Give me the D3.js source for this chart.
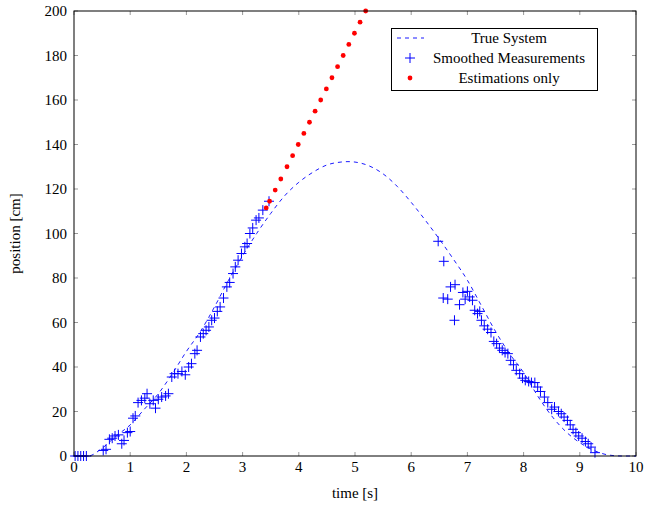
<!DOCTYPE html>
<html>
<head>
<meta charset="utf-8">
<script src="https://cdn.jsdelivr.net/npm/d3@7"></script>
<style>
  body { margin: 0; background: #fff; }
  svg text { font-family: 'Liberation Serif', 'DejaVu Serif', serif; fill: #000; }
</style>
</head>
<body>
<div id="chart"></div>
<script>
// true system trajectory [time s, position cm]
const trueTime = [0, 0.25, 0.5, 0.75, 1.0, 1.25, 1.5, 1.75, 2.0, 2.25, 2.5, 2.75, 3.0, 3.25, 3.5, 3.75, 4.0, 4.25, 4.5, 4.75, 4.875, 5.0, 5.25, 5.5, 5.75, 6.0, 6.25, 6.5, 6.75, 7.0, 7.25, 7.5, 7.75, 8.0, 8.25, 8.5, 8.75, 9.0, 9.25, 9.5, 9.75, 10];
const truePos = [0, 0, 3.5, 9, 14, 21, 28, 37, 47, 56, 67, 79, 90, 100, 109, 117, 123, 127.5, 130.8, 132.1, 132.3, 132.1, 130.4, 126.8, 121.2, 114, 106, 97.5, 88.5, 79, 67.5, 56, 46, 37.5, 27, 18, 11, 6, 2.5, 0.5, 0, 0];

// smoothed measurements
const measTime = [0.02, 0.07, 0.12, 0.17, 0.22,
  0.52, 0.57, 0.63, 0.68, 0.73, 0.79, 0.85, 0.89, 0.95, 1.0, 1.05, 1.09, 1.14, 1.2, 1.26, 1.3, 1.35, 1.41, 1.45, 1.5,
  1.56, 1.63, 1.68, 1.74, 1.79, 1.85, 1.92, 1.98, 2.04, 2.09, 2.15, 2.19, 2.25, 2.3, 2.35, 2.4, 2.45, 2.5, 2.55, 2.6,
  2.66, 2.72, 2.77, 2.83, 2.87, 2.92, 2.98, 3.04, 3.08, 3.13, 3.18, 3.24, 3.29, 3.36, 3.47,
  6.48, 6.58, 6.57, 6.65, 6.7, 6.78, 6.77, 6.86, 6.92, 6.96, 7.0, 7.04, 7.09, 7.13, 7.18, 7.22, 7.25, 7.3, 7.36, 7.42,
  7.47, 7.52, 7.57, 7.62, 7.67, 7.72, 7.77, 7.82, 7.87, 7.93, 7.98, 8.03, 8.09, 8.14, 8.2, 8.25, 8.3, 8.37, 8.43, 8.5,
  8.55, 8.62, 8.67, 8.72, 8.78, 8.83, 8.88, 8.93, 8.98, 9.04, 9.1, 9.15, 9.2, 9.27];
const measPos = [0, 0, 0, 0, 0,
  2.5, 3, 7.5, 8, 9, 9.5, 5.5, 7, 10.5, 11, 17, 18, 24, 25, 26, 28, 23.5, 25, 21.5, 25.5,
  26.5, 27, 28, 35.5, 37, 37, 38, 36.5, 40, 41.5, 46, 47.5, 53.5, 55, 56.5, 58, 61, 62, 65, 67,
  71, 76, 78, 82, 85, 88, 91, 94, 95.5, 100, 102.5, 106, 107, 110.5, 114.5,
  96.5, 87.5, 71, 70.5, 76, 77, 61, 68, 73.5, 70.5, 74, 71.5, 70, 65.5, 64, 65, 61, 58.5, 57, 55.5,
  51.5, 50.5, 48.5, 47.5, 46.5, 46, 43, 41, 38.5, 37, 35, 34, 33.5, 33, 33, 31, 29, 26.5, 24, 21,
  22, 20, 19, 17.5, 16, 14, 12, 10.5, 9, 8, 6.5, 5.5, 4, 1.5];

// estimation only (no measurements)
const estTime = [3.42, 3.48, 3.58, 3.68, 3.79, 3.89, 3.99, 4.09, 4.19, 4.29, 4.39, 4.49, 4.59, 4.69, 4.79, 4.89, 4.99, 5.09, 5.19];
const estPos = [111.5, 114.5, 119.5, 124.5, 130, 135, 140, 145, 150, 155, 160, 165, 170, 175, 180, 185, 190, 195, 200];

const xTicks = [0, 1, 2, 3, 4, 5, 6, 7, 8, 9, 10];
const yTicks = [0, 20, 40, 60, 80, 100, 120, 140, 160, 180, 200];
const legendLabels = ['True System', 'Smoothed Measurements', 'Estimations only'];

const width = 646, height = 506;
const plot = {left: 74, right: 636, top: 11, bottom: 456};

const svg = d3.select('#chart').append('svg')
    .attr('width', width)
    .attr('height', height);

const x = d3.scaleLinear().domain([0, 10]).range([plot.left, plot.right]);
const y = d3.scaleLinear().domain([0, 200]).range([plot.bottom, plot.top]);

// ticks, inward on all four sides
const tickLen = 4;
const tickColor = '#999';
let ticks = svg.append('g').attr('class', 'ticks');
xTicks.forEach(t => {
    ticks.append('line').attr('x1', x(t)).attr('x2', x(t)).attr('y1', plot.bottom).attr('y2', plot.bottom - tickLen)
        .attr('stroke', tickColor);
    ticks.append('line').attr('x1', x(t)).attr('x2', x(t)).attr('y1', plot.top).attr('y2', plot.top + tickLen)
        .attr('stroke', tickColor);
});
yTicks.forEach(t => {
    ticks.append('line').attr('x1', plot.left).attr('x2', plot.left + tickLen).attr('y1', y(t)).attr('y2', y(t))
        .attr('stroke', tickColor);
    ticks.append('line').attr('x1', plot.right).attr('x2', plot.right - tickLen).attr('y1', y(t)).attr('y2', y(t))
        .attr('stroke', tickColor);
});

// tick labels
svg.append('g').selectAll('text')
    .data(xTicks)
    .enter().append('text')
    .attr('x', d => x(d))
    .attr('y', plot.bottom + 16)
    .attr('text-anchor', 'middle')
    .style('font-size', '15px')
    .text(d => d);

svg.append('g').selectAll('text')
    .data(yTicks)
    .enter().append('text')
    .attr('x', plot.left - 7)
    .attr('y', d => y(d))
    .attr('dy', '.35em')
    .attr('text-anchor', 'end')
    .style('font-size', '15px')
    .text(d => d);

// axis titles
svg.append('text')
    .attr('x', (plot.left + plot.right) / 2)
    .attr('y', 498)
    .attr('text-anchor', 'middle')
    .style('font-size', '15px')
    .text('time [s]');

svg.append('text')
    .attr('transform', 'translate(20,' + ((plot.top + plot.bottom) / 2) + ')rotate(-90)')
    .attr('text-anchor', 'middle')
    .style('font-size', '15px')
    .text('position [cm]');

// true system
const trueData = trueTime.map((t, i) => [t, truePos[i]]);
const line = d3.line().x(d => x(d[0])).y(d => y(d[1])).curve(d3.curveMonotoneX);
svg.append('path')
    .datum(trueData)
    .attr('d', line)
    .attr('fill', 'none')
    .attr('stroke', '#0000ff')
    .attr('stroke-width', 0.9)
    .attr('stroke-dasharray', '4,4');

// measurements as plus marks
const crossSize = 5;
const measData = measTime.map((t, i) => [t, measPos[i]]);
let crosses = svg.append('g').attr('class', 'meas')
    .selectAll('g')
    .data(measData)
    .enter().append('g')
    .attr('transform', d => 'translate(' + x(d[0]) + ',' + y(d[1]) + ')');
crosses.append('line').attr('x1', -crossSize).attr('x2', crossSize).attr('stroke', '#0000ff').attr('stroke-width', 1);
crosses.append('line').attr('y1', -crossSize).attr('y2', crossSize).attr('stroke', '#0000ff').attr('stroke-width', 1);

// estimations
const estData = estTime.map((t, i) => [t, estPos[i]]);
svg.append('g').selectAll('circle')
    .data(estData)
    .enter().append('circle')
    .attr('cx', d => x(d[0]))
    .attr('cy', d => y(d[1]))
    .attr('r', 2.4)
    .attr('fill', '#ff0000');

// frame
svg.append('rect')
    .attr('x', plot.left).attr('y', plot.top)
    .attr('width', plot.right - plot.left).attr('height', plot.bottom - plot.top)
    .attr('fill', 'none')
    .attr('stroke', '#000')
    .attr('stroke-width', 1);

// legend
const lg = svg.append('g').attr('class', 'legend');
lg.append('rect')
    .attr('x', 391.5).attr('y', 28.5)
    .attr('width', 206).attr('height', 62)
    .attr('fill', '#fff')
    .attr('stroke', '#000');
const rowY = [38, 58, 78];
lg.append('line')
    .attr('x1', 397).attr('x2', 424).attr('y1', rowY[0]).attr('y2', rowY[0])
    .attr('stroke', '#0000ff').attr('stroke-width', 0.9).attr('stroke-dasharray', '4,4');
lg.append('line').attr('x1', 410 - crossSize).attr('x2', 410 + crossSize).attr('y1', rowY[1]).attr('y2', rowY[1])
    .attr('stroke', '#0000ff');
lg.append('line').attr('x1', 410).attr('x2', 410).attr('y1', rowY[1] - crossSize).attr('y2', rowY[1] + crossSize)
    .attr('stroke', '#0000ff');
lg.append('circle').attr('cx', 410).attr('cy', rowY[2]).attr('r', 2.4).attr('fill', '#ff0000');
lg.selectAll('text.lbl')
    .data(legendLabels)
    .enter().append('text')
    .attr('class', 'lbl')
    .attr('x', 509)
    .attr('y', (d, i) => rowY[i])
    .attr('dy', '.35em')
    .attr('text-anchor', 'middle')
    .style('font-size', '15px')
    .text(d => d);
</script>
</body>
</html>
